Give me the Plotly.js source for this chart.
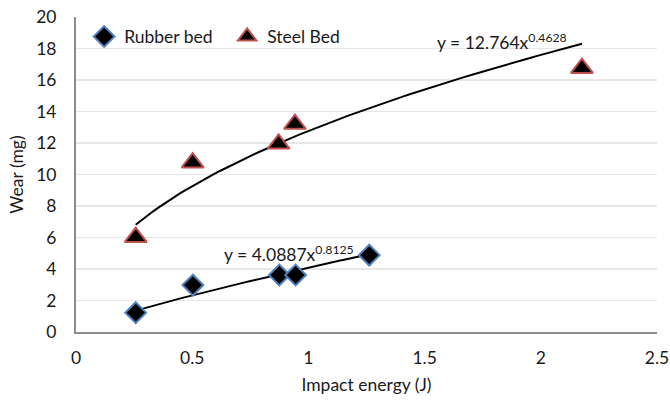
<!DOCTYPE html>
<html><head><meta charset="utf-8">
<script src="https://cdn.plot.ly/plotly-3.0.1.min.js"></script>
<style>html,body{margin:0;padding:0;background:#fff}#chart{width:670px;height:401px}</style>
</head><body><div id="chart"></div>
<script>
const energyRubber = [0.257, 0.503, 0.875, 0.945, 1.262];
const wearRubber = [1.23, 2.98, 3.62, 3.62, 4.88];
const energySteel = [0.257, 0.502, 0.872, 0.942, 2.177];
const wearSteel = [6.02, 10.75, 11.95, 13.2, 16.75];
const fitRubber = {a: 4.0887, b: 0.8125, label: 'y = 4.0887x<sup>0.8125</sup>'};
const fitSteel = {a: 12.764, b: 0.4628, label: 'y = 12.764x<sup>0.4628</sup>'};
const xTicks = [0, 0.5, 1, 1.5, 2, 2.5];
const xTickText = ['0', '0.5', '1', '1.5', '2', '2.5'];
const yTicks = [0, 2, 4, 6, 8, 10, 12, 14, 16, 18, 20];

function curve(fit, xs) {
  const lo = Math.min(...xs), hi = Math.max(...xs);
  const cx = [], cy = [];
  for (let i = 0; i <= 80; i++) {
    const x = lo + (hi - lo) * i / 80;
    cx.push(x); cy.push(fit.a * Math.pow(x, fit.b));
  }
  return {x: cx, y: cy};
}
const cR = curve(fitRubber, energyRubber);
const cS = curve(fitSteel, energySteel);
const font = {family: 'Lato, Carlito, sans-serif', size: 17.5, color: '#1a1a1a'};

const traces = [
  {x: cS.x, y: cS.y, mode: 'lines', line: {color: '#000', width: 2}, showlegend: false, hoverinfo: 'skip'},
  {x: cR.x, y: cR.y, mode: 'lines', line: {color: '#000', width: 2}, showlegend: false, hoverinfo: 'skip'},
  {x: energyRubber, y: wearRubber, mode: 'markers', name: 'Rubber bed',
   marker: {symbol: 'diamond', size: 16, color: '#000', line: {color: '#4F81BD', width: 2}}},
  {x: energySteel, y: wearSteel, mode: 'markers', name: 'Steel Bed',
   marker: {symbol: 'triangle-up', size: 19, color: '#000', line: {color: '#C0504D', width: 2}}}
];

const layout = {
  width: 670, height: 401,
  margin: {l: 76, r: 13, t: 17, b: 69},
  paper_bgcolor: '#fff', plot_bgcolor: '#fff',
  font: font,
  showlegend: true,
  legend: {orientation: 'h', x: 0.014, y: 0.995, xanchor: 'left', yanchor: 'top',
           font: font, bgcolor: 'rgba(0,0,0,0)', itemwidth: 30, entrywidth: 98, entrywidthmode: 'pixels'},
  xaxis: {range: [0, 2.5], tickvals: xTicks, ticktext: xTickText, showgrid: false, zeroline: false,
          showline: true, linecolor: '#8c8c8c', linewidth: 2, ticks: '', ticklabelstandoff: 9,
          title: {text: 'Impact energy (J)', font: font, standoff: 12}},
  yaxis: {range: [0, 20], tickvals: yTicks, showgrid: true, gridcolor: '#e6e6e6', gridwidth: 1.5,
          zeroline: false, showline: true, linecolor: '#8c8c8c', linewidth: 2, ticks: '', ticklabelstandoff: 14,
          title: {text: 'Wear (mg)', font: font, standoff: 8}},
  annotations: [
    {x: 1.835, y: 18.43, xref: 'x', yref: 'y', text: fitSteel.label, showarrow: false, font: font},
    {x: 0.915, y: 5.0, xref: 'x', yref: 'y', text: fitRubber.label, showarrow: false, font: font}
  ]
};
Plotly.newPlot('chart', traces, layout, {displayModeBar: false, staticPlot: true});
</script></body></html>
